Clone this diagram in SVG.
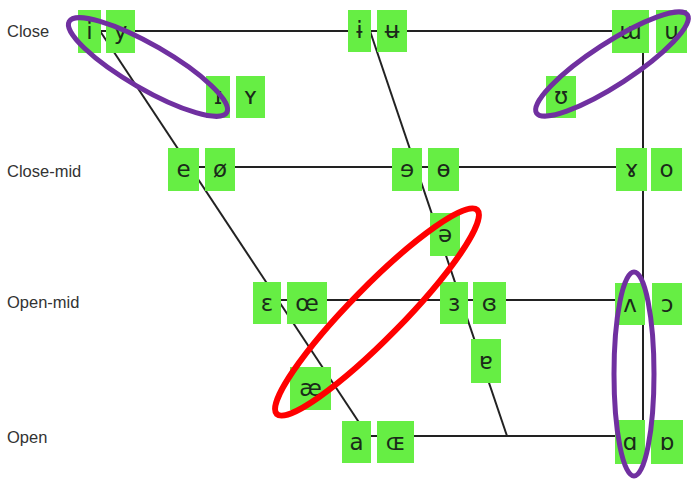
<svg xmlns="http://www.w3.org/2000/svg" width="696" height="481" viewBox="0 0 696 481">
<style>
.bg{fill:#fff}
.ln{stroke:#222;stroke-width:2;fill:none}
.bx{fill:#66ee44}
.v{font-family:"DejaVu Sans",sans-serif;font-size:23px;fill:#1a2a1a;text-anchor:middle}
.lb{font-family:"Liberation Sans",Arial,sans-serif;font-size:16.5px;fill:#333}
.pu{fill:none;stroke:#7030a0;stroke-width:5}
.rd{fill:none;stroke:#ff0000;stroke-width:6}
</style>
<rect class="bg" x="0" y="0" width="696" height="481"/>
<g id="labels">
<text class="lb" x="7" y="37">Close</text>
<text class="lb" x="7" y="177">Close-mid</text>
<text class="lb" x="7" y="308">Open-mid</text>
<text class="lb" x="7" y="443">Open</text>
</g>
<g id="connectors">
<line class="ln" x1="100" y1="31" x2="643" y2="31"/>
<line class="ln" x1="196" y1="167" x2="643" y2="167"/>
<line class="ln" x1="278" y1="300" x2="643" y2="300"/>
<line class="ln" x1="368" y1="436" x2="643" y2="436"/>
<line class="ln" x1="100" y1="31" x2="368" y2="436"/>
<line class="ln" x1="370" y1="31" x2="507" y2="436"/>
<line class="ln" x1="643" y1="31" x2="643" y2="436"/>
</g>
<g id="n-i"><rect class="bx" x="78" y="10" width="23" height="43"/><text class="v" x="89.5" y="39">i</text></g>
<g id="n-y"><rect class="bx" x="106" y="10" width="29" height="43"/><text class="v" x="120.5" y="39">y</text></g>
<g id="n-I"><rect class="bx" x="206" y="76" width="24" height="42"/><text class="v" x="218" y="104">ɪ</text></g>
<g id="n-Y"><rect class="bx" x="236" y="76" width="29" height="42"/><text class="v" x="250.5" y="104">ʏ</text></g>
<g id="n-i-bar"><rect class="bx" x="348" y="10" width="23" height="42"/><text class="v" x="359.5" y="38">ɨ</text></g>
<g id="n-u-bar"><rect class="bx" x="377" y="10" width="30" height="42"/><text class="v" x="392" y="38">ʉ</text></g>
<g id="n-m-turn"><rect class="bx" x="612" y="10" width="37" height="43"/><text class="v" x="630.5" y="39">ɯ</text></g>
<g id="n-u"><rect class="bx" x="656" y="10" width="31" height="43"/><text class="v" x="671.5" y="39">u</text></g>
<g id="n-upsilon"><rect class="bx" x="546" y="76" width="30" height="42"/><text class="v" x="561" y="104">ʊ</text></g>
<g id="n-e"><rect class="bx" x="168" y="148" width="31" height="43"/><text class="v" x="183.5" y="177">e</text></g>
<g id="n-o-slash"><rect class="bx" x="205" y="148" width="30" height="43"/><text class="v" x="220" y="177">ø</text></g>
<g id="n-e-rev"><rect class="bx" x="392" y="148" width="30" height="43"/><text class="v" x="407" y="177">ɘ</text></g>
<g id="n-o-bar"><rect class="bx" x="428" y="148" width="31" height="43"/><text class="v" x="443.5" y="177">ɵ</text></g>
<g id="n-gamma"><rect class="bx" x="616" y="148" width="31" height="43"/><text class="v" x="631.5" y="177">ɤ</text></g>
<g id="n-o"><rect class="bx" x="651" y="148" width="31" height="43"/><text class="v" x="666.5" y="177">o</text></g>
<g id="n-schwa"><rect class="bx" x="430" y="213" width="30" height="43"/><text class="v" x="445" y="242">ə</text></g>
<g id="n-epsilon"><rect class="bx" x="253" y="282" width="28" height="42"/><text class="v" x="267" y="311">ɛ</text></g>
<g id="n-oe"><rect class="bx" x="287" y="282" width="40" height="42"/><text class="v" x="307" y="311">œ</text></g>
<g id="n-epsilon-rev"><rect class="bx" x="440" y="282" width="28" height="42"/><text class="v" x="454" y="311">ɜ</text></g>
<g id="n-epsilon-closed"><rect class="bx" x="473" y="282" width="33" height="42"/><text class="v" x="489.5" y="311">ɞ</text></g>
<g id="n-v-turn"><rect class="bx" x="615" y="283" width="30" height="42"/><text class="v" x="630" y="312">ʌ</text></g>
<g id="n-open-o"><rect class="bx" x="652" y="283" width="30" height="42"/><text class="v" x="667" y="312">ɔ</text></g>
<g id="n-a-turn"><rect class="bx" x="471" y="339" width="30" height="44"/><text class="v" x="486" y="369">ɐ</text></g>
<g id="n-ae"><rect class="bx" x="290" y="367" width="41" height="43"/><text class="v" x="310.5" y="396">æ</text></g>
<g id="n-a"><rect class="bx" x="342" y="421" width="29" height="42"/><text class="v" x="356.5" y="450">a</text></g>
<g id="n-OE"><rect class="bx" x="377" y="421" width="37" height="42"/><text class="v" x="395.5" y="450">ɶ</text></g>
<g id="n-alpha"><rect class="bx" x="615" y="420" width="30" height="44"/><text class="v" x="630" y="450">ɑ</text></g>
<g id="n-alpha-turn"><rect class="bx" x="651" y="420" width="32" height="44"/><text class="v" x="667" y="450">ɒ</text></g>
<g id="highlights">
<ellipse class="pu" cx="148" cy="67" rx="91" ry="22" transform="rotate(30 148 67)"/>
<ellipse class="pu" cx="612" cy="64" rx="90" ry="21" transform="rotate(-33 612 64)"/>
<ellipse class="rd" cx="377" cy="312" rx="143" ry="26" transform="rotate(-45.5 377 312)"/>
<ellipse class="pu" cx="634" cy="374" rx="20" ry="102"/>
</g>
</svg>
